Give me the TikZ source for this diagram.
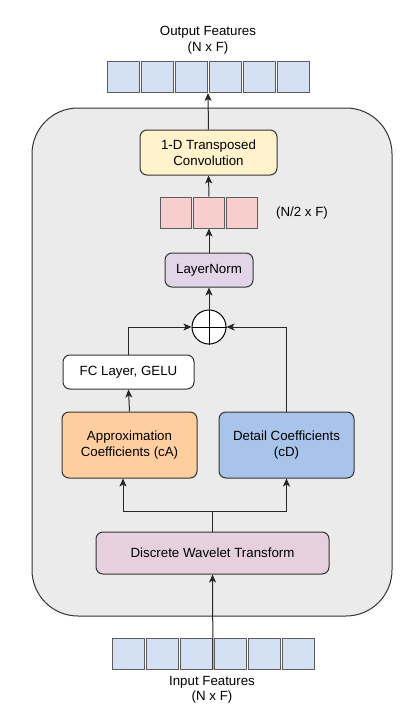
\documentclass[tikz,border=0pt]{standalone}
\usepackage{fontspec}
\setmainfont{Liberation Sans}
\usepackage{tikz}
\usetikzlibrary{arrows.meta}

\definecolor{bggray}{HTML}{EBEBEB}
\definecolor{featblue}{HTML}{D4E1F5}
\definecolor{featpink}{HTML}{F8CECC}
\definecolor{convyellow}{HTML}{FFF2CC}
\definecolor{normpurple}{HTML}{E1D5E7}
\definecolor{approxorange}{HTML}{FFCE9F}
\definecolor{detailblue}{HTML}{A9C4EB}
\definecolor{dwtpink}{HTML}{E6D0DE}
\definecolor{edgegray}{HTML}{333333}

\begin{document}
\begin{tikzpicture}[x=1pt, y=-1pt,
    font=\fontsize{13.3}{15.5}\selectfont,
    block/.style={draw=edgegray, line width=1pt, rounded corners=7pt, align=center, inner sep=0pt},
    cell/.style={draw=edgegray!80, line width=1pt, minimum width=32pt, minimum height=31pt, inner sep=0pt},
    link/.style={line width=1pt, draw=black!85},
    arr/.style={link, -{Stealth[length=8pt, width=7pt, inset=2pt]}}]
    \useasboundingbox (0, 0) rectangle (418, 712);
    % container
    \draw[edgegray, line width=1pt, fill=bggray, rounded corners=46pt] (32, 108) rectangle (392, 616);

    % feature rows
    \foreach \i in {0,...,5} {
        \node[cell, fill=featblue] (out\i) at (123+34*\i, 77) {};
        \node[cell, fill=featblue] (in\i) at (128+34*\i, 653.5) {};
    }
    \foreach \i in {0,1,2} {
        \node[cell, fill=featpink, minimum width=31pt] (half\i) at (176+33*\i, 212.5) {};
    }
    \coordinate (outrow) at (208, 93);
    \coordinate (inrow) at (213, 669);

    \node[align=center] (outlabel) at (208, 40) {Output Features\\(N x F)};
    \node[align=center] (inlabel) at (212, 690) {Input Features\\(N x F)};
    \node (halflabel) at (302, 213) {(N/2 x F)};

    % blocks
    \node[block, fill=convyellow, minimum width=137pt, minimum height=45pt] (conv) at (208.5, 152.5) {1-D Transposed\\Convolution};
    \node[block, fill=normpurple, minimum width=88pt, minimum height=34pt] (norm) at (209, 270) {LayerNorm};
    \node[draw=black, line width=1pt, fill=white, circle, minimum size=34pt, inner sep=0pt] (sum) at (209, 327) {};
    \draw[line width=1pt] (sum.north) -- (sum.south) (sum.west) -- (sum.east);
    \node[block, fill=white, minimum width=131pt, minimum height=34pt] (fc) at (128.5, 372) {FC Layer, GELU};
    \node[block, fill=approxorange, minimum width=135pt, minimum height=66pt] (ca) at (129.5, 445) {Approximation\\Coefficients (cA)};
    \node[block, fill=detailblue, minimum width=135pt, minimum height=66pt] (cd) at (286.5, 445) {Detail Coefficients\\(cD)};
    \node[block, fill=dwtpink, minimum width=233pt, minimum height=42pt] (dwt) at (212.5, 553) {Discrete Wavelet Transform};

    % connectors
    \draw[arr] (inrow) -- (dwt.south);
    \draw[link] (dwt.north) -- ++(0, -20) coordinate (split);
    \draw[arr] (split) -| ([xshift=-6.5pt]ca.south);
    \draw[arr] (split) -| (cd.south);
    \draw[arr] (ca.north) -- (fc.south);
    \draw[arr] (fc.north) |- (sum.west);
    \draw[arr] (cd.north) |- (sum.east);
    \draw[arr] (sum.north) -- (norm.south);
    \draw[arr] (norm.north) -- (half1.south);
    \draw[arr] (half1.north) -- (conv.south);
    \draw[arr] (conv.north) -- (outrow);
\end{tikzpicture}
\end{document}
